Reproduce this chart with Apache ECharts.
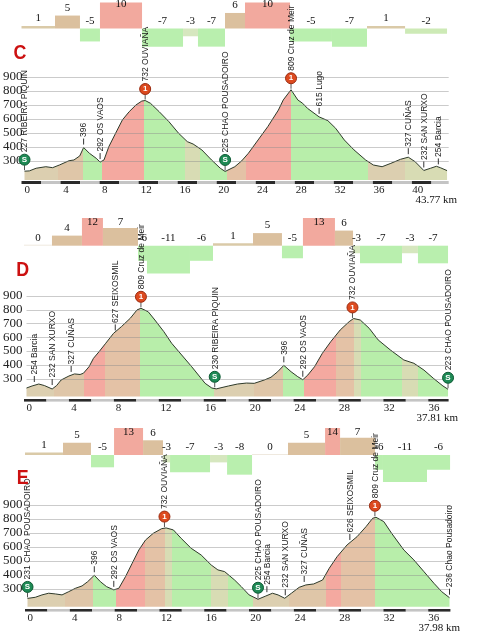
<!DOCTYPE html>
<html><head><meta charset="utf-8">
<script src="https://cdn.jsdelivr.net/npm/echarts@6/dist/echarts.min.js"></script>
<style>html,body{margin:0;padding:0;background:#fff}#c{width:485px;height:640px}</style>
</head><body><div id="c"></div>
<script>
// ---------- DATA ----------
const yTicks = [300, 400, 500, 600, 700, 800, 900];

// Stage C
const cTotal = 43.77;
const cDist = [0,0.5,1.2,2.2,2.9,3.6,4.6,5.1,5.7,6.1,6.7,7.4,7.8,8.2,8.7,9.4,10.1,10.8,11.5,12.1,12.45,13.0,13.9,14.9,15.9,16.8,17.4,18.3,19.3,20.2,20.7,21.7,22.4,23.1,24.1,25.1,26.2,26.7,27.5,28.2,28.7,29.2,30.4,31.3,32.1,33.0,34.0,35.2,36.0,36.9,37.8,38.8,39.6,40.3,41.2,41.9,42.5,42.9,43.6];
const cElev = [227,229,248,259,252,271,302,307,336,396,355,319,292,307,402,498,593,652,700,728,732,712,652,581,498,438,421,379,307,248,225,259,300,355,450,545,664,736,809,736,712,676,615,588,534,450,379,307,271,259,283,312,327,295,232,248,262,252,231];
const cGradeStart = [0,3.43,5.99,8.04,12.35,16.55,18.08,20.85,22.9,27.51,31.81,35.4,39.3];
const cGradeEnd = 43.6;
const cGrade = [1,5,-5,10,-7,-3,-7,6,10,-5,-7,1,-2];
const cPlaceKm = [0,6.1,7.8,12.45,20.7,27.5,30.4,39.6,41.2,42.7];
const cPlaceElev = [227,396,292,732,225,809,615,327,232,254];
const cPlaceName = ['RIBEIRA PIQUIN','','OS VAOS','OUVIAÑA','CHAO POUSADOIRO','Cruz de Meir','Lugo','CUÑAS','SAN XURXO','Barcia'];
const cPlaceMark = ['S','','','1','S','1','','','',''];

// Stage D
const dTotal = 37.81;
const dDist = [0,0.5,1.1,1.6,2.3,2.7,3.1,3.8,4.3,4.8,5.1,5.6,6.0,6.5,7.1,7.8,8.5,9.3,9.9,10.25,10.9,11.5,12.3,13.0,13.9,14.8,15.4,16.0,16.6,17.0,18.1,18.9,19.7,20.4,21.3,21.9,22.5,23.05,23.7,24.3,24.75,25.2,25.8,26.5,27.25,28.1,28.9,29.3,29.9,30.7,31.5,32.6,33.8,34.7,35.6,36.45,37.3,37.76];
const dElev = [232,247,261,250,225,250,290,319,334,330,339,386,447,495,556,628,676,737,797,809,784,724,640,556,471,386,326,266,232,226,247,261,268,266,290,310,350,396,350,314,292,326,386,483,567,652,712,735,724,664,580,507,435,411,362,302,247,223];
const dGradeStart = [0,2.49,5.16,7.03,10.15,10.95,14.78,16.83,20.39,22.97,24.84,27.69,29.3,29.92,33.66,35.08];
const dGradeEnd = 37.76;
const dGrade = [0,4,12,7,-6,-11,-6,1,5,-5,13,6,-3,-7,-3,-7];
const dPlaceKm = [0.7,2.3,4.0,7.95,10.25,16.86,23.05,24.75,29.2,37.76];
const dPlaceElev = [254,232,327,627,809,230,396,292,732,223];
const dPlaceName = ['Barcia','SAN XURXO','CUÑAS','SEIXOSMIL','Cruz de Meir','RIBEIRA PIQUIN','','OS VAOS','OUVIAÑA','CHAO POUSADOIRO'];
const dPlaceMark = ['','','','','1','S','','','1','S'];

// Stage E
const eTotal = 37.98;
const eDist = [0,0.7,1.3,1.9,2.5,3.1,3.7,4.3,4.9,5.4,6.0,6.55,7.1,7.75,8.2,8.8,9.4,10.0,10.6,11.3,12.05,12.45,13.1,13.8,14.7,15.6,16.5,17.1,17.7,18.6,19.2,19.9,20.7,21.4,22.0,22.5,23.1,23.7,24.4,25.0,25.7,26.5,27.1,27.8,28.7,29.6,30.4,31.0,31.3,32.0,32.7,33.8,34.7,35.6,36.5,37.2,37.9];
const eElev = [231,239,256,268,263,256,279,303,320,350,396,350,315,292,303,386,481,576,647,695,728,733,719,659,588,540,469,434,422,362,315,256,225,248,268,256,232,268,310,327,334,362,446,528,612,671,742,802,809,778,695,576,505,422,339,279,236];
const eGradeStart = [0,3.39,5.89,7.95,10.54,12.32,12.95,16.52,18.04,20.27,23.48,26.79,28.13,31.25,31.96,35.89];
const eGradeEnd = 37.95;
const eGrade = [1,5,-5,13,6,-3,-7,-3,-8,0,5,14,7,-6,-11,-6];
const ePlaceKm = [0,6.0,7.75,12.3,20.7,21.5,23.15,24.85,28.95,31.2,37.9];
const ePlaceElev = [231,396,292,732,225,254,232,327,626,809,236];
const ePlaceName = ['CHAO POUSADOIRO','','OS VAOS','OUVIAÑA','CHAO POUSADOIRO','Barcia','SAN XURXO','CUÑAS','SEIXOSMIL','Cruz de Meir','Chao Pousadoiro'];
const ePlaceMark = ['S','','','1','S','','','','','1',''];

// ---------- LAYOUT / STYLE ----------
const SERIF = '"Liberation Serif", "Times New Roman", serif';
const SANS = '"Liberation Sans", Arial, sans-serif';
function barColor(v){
  if (v >= 10) return '#f2a99e';
  if (v >= 4) return '#dbc09e';
  if (v >= 1) return '#dacaa8';
  if (v === 0) return '#efe9df';
  if (v >= -2) return '#cdeab6';
  if (v === -3) return '#d6e7bf';
  return '#b9efae';
}
function fillColor(v){
  if (v >= 10) return '#f4a9a0';
  if (v >= 6) return '#e4c2a6';
  if (v >= 4) return '#dfc6a8';
  if (v >= 0) return '#dccfb0';
  if (v >= -3) return '#d8dcb4';
  return '#b8eeaa';
}

const panels = [
  {letter:'C', total:cTotal, dist:cDist, elev:cElev, gs:cGradeStart, ge:cGradeEnd, g:cGrade, pk:cPlaceKm, pe:cPlaceElev, pn:cPlaceName, pm:cPlaceMark,
   left:21.5, right:485-448.7, top:77, h:103, yMin:164, yLabMargin:2, xLabMargin:5, axTop:181, axH:3, gTop:0, gH:59.6, lx:20, ly:53, tx:457, ty:200},
  {letter:'D', total:dTotal, dist:dDist, elev:dElev, gs:dGradeStart, ge:dGradeEnd, g:dGrade, pk:dPlaceKm, pe:dPlaceElev, pn:dPlaceName, pm:dPlaceMark,
   left:24, right:485-448.6, top:295.7, h:100.9, yMin:170, yLabMargin:4, xLabMargin:6, axTop:399, axH:2.6, gTop:218, gH:57.9, lx:22.7, ly:270, tx:458, ty:418},
  {letter:'E', total:eTotal, dist:eDist, elev:eElev, gs:eGradeStart, ge:eGradeEnd, g:eGrade, pk:ePlaceKm, pe:ePlaceElev, pn:ePlaceName, pm:ePlaceMark,
   left:25, right:485-450.4, top:504.5, h:102.2, yMin:172, yLabMargin:5, xLabMargin:6, axTop:609, axH:2.6, gTop:428, gH:56.5, lx:22.7, ly:478, tx:460, ty:628}
];

const grid = [], xAxis = [], yAxis = [], series = [], visualMap = [], graphic = [];

function barRender(params, api){
  const s = api.value(0), e = api.value(1), v = api.value(2);
  const b0 = api.coord([s, 0]), b1 = api.coord([e, v]);
  const top = params.coordSys.y;
  const yv = Math.max(b1[1], top);
  let y = Math.min(b0[1], yv), h = Math.abs(yv - b0[1]);
  if (h < 1) { h = 1; y = b0[1] - 1; }
  const labelY = Math.max(Math.min(b0[1], yv) - 7.5, top + 4.5);
  return {type:'group', children:[
    {type:'rect', shape:{x:b0[0], y:y, width:b1[0]-b0[0], height:h}, style:{fill:barColor(v)}},
    {type:'text', x:(b0[0]+b1[0])/2, y:labelY, style:{text:String(v), font:'11px ' + SERIF, fill:'#111', align:'center', verticalAlign:'middle'}}
  ]};
}

function gridLineRender(params, api){
  const a = api.coord([api.value(0), api.value(1)]);
  const b = api.coord([api.value(2), api.value(1)]);
  const y = Math.round(a[1]) + 0.5;
  return {type:'line', shape:{x1:a[0], y1:y, x2:b[0], y2:y},
    style:{stroke:'rgba(140,140,140,0.45)', lineWidth:1}};
}

function placeRender(names, marks){
  return function(params, api){
    const p = api.coord([api.value(0), api.value(1)]);
    const i = params.dataIndex;
    const kids = [];
    let base;
    if (marks[i]) {
      const red = marks[i] === '1';
      kids.push({type:'line', shape:{x1:p[0], y1:p[1]-1, x2:p[0], y2:p[1]-6}, style:{stroke:'#555', lineWidth:1}});
      kids.push({type:'circle', shape:{cx:p[0], cy:p[1]-11.5, r:5.5}, style:{fill: red ? '#dd4a1f' : '#1e8a55', stroke: red ? '#9b2b10' : '#0c5a33', lineWidth:1}});
      kids.push({type:'text', x:p[0], y:p[1]-11.5, style:{text:marks[i], font:'bold 8px ' + SANS, fill:'#fff', align:'center', verticalAlign:'middle'}});
      base = p[1] - 19;
    } else {
      kids.push({type:'line', shape:{x1:p[0], y1:p[1]-3, x2:p[0], y2:p[1]-9}, style:{stroke:'#333', lineWidth:1}});
      base = p[1] - 10.5;
    }
    const label = api.value(1) + (names[i] ? ' ' + names[i] : '');
    kids.push({type:'text', x:p[0]+0.5, y:base, rotation:Math.PI/2, style:{text:label, font:'8.5px ' + SANS, fill:'#1a1a1a', align:'left', verticalAlign:'middle'}});
    return {type:'group', children:kids};
  };
}

panels.forEach((P, k) => {
  const gi = grid.length;
  // profile grid
  grid.push({left:P.left, right:P.right, top:P.top, height:P.h});
  xAxis.push({gridIndex:gi, type:'value', min:0, max:P.total, interval:4,
    axisLine:{show:false}, axisTick:{show:false}, splitLine:{show:false},
    axisLabel:{align:'left', margin:P.xLabMargin, fontSize:11, fontFamily:SERIF, color:'#222', showMaxLabel:false}});
  yAxis.push({gridIndex:gi, type:'value', min:P.yMin, max:900,
    axisLine:{show:false}, axisTick:{show:false, customValues:yTicks},
    axisLabel:{customValues:yTicks, margin:P.yLabMargin, fontSize:13, fontFamily:SERIF, color:'#222', padding:[0,0,9,0]},
    splitLine:{show:false}});
  // axis stripe grid
  grid.push({left:P.left, right:P.right, top:P.axTop, height:P.axH});
  xAxis.push({gridIndex:gi+1, type:'value', min:0, max:P.total, interval:2,
    axisLine:{show:false}, axisTick:{show:false}, axisLabel:{show:false}, splitLine:{show:false},
    splitArea:{show:true, areaStyle:{color:['#2a2a2a','#c4c4c4']}}});
  yAxis.push({gridIndex:gi+1, type:'value', min:0, max:1, show:false});
  // gradient bar grid
  grid.push({left:P.left, right:P.right, top:P.gTop, height:P.gH});
  xAxis.push({gridIndex:gi+2, type:'value', min:0, max:P.total, show:false});
  yAxis.push({gridIndex:gi+2, type:'value', min:-12, max:11, show:false});

  // profile area
  const si = series.length;
  series.push({type:'line', xAxisIndex:gi, yAxisIndex:gi, symbol:'none', silent:true, z:2,
    data:P.dist.map((d,i)=>[d, P.elev[i]]),
    lineStyle:{color:'#2e3a2a', width:1}, areaStyle:{opacity:1}});
  const pieces = P.gs.map((s,i)=>{
    const e = i < P.gs.length-1 ? P.gs[i+1] : 1000;
    return {gte: i === 0 ? -1000 : s, lt: e, color: fillColor(P.g[i])};
  });
  visualMap.push({type:'piecewise', show:false, seriesIndex:si, dimension:0, pieces:pieces, outOfRange:{color:'#dccfb0'}});

  // horizontal grid lines at the elevation ticks
  series.push({type:'custom', xAxisIndex:gi, yAxisIndex:gi, silent:true, z:4,
    renderItem:gridLineRender, encode:{x:[0,2], y:1}, data:yTicks.map(v=>[0, v, P.total])});

  // gradient bars
  series.push({type:'custom', xAxisIndex:gi+2, yAxisIndex:gi+2, silent:true, z:3,
    renderItem:barRender,
    encode:{x:[0,1], y:2},
    data:P.gs.map((s,i)=>[s, i < P.gs.length-1 ? P.gs[i+1] : P.ge, P.g[i]])});

  // places
  series.push({type:'custom', xAxisIndex:gi, yAxisIndex:gi, silent:true, z:10,
    renderItem:placeRender(P.pn, P.pm),
    encode:{x:0, y:1},
    data:P.pk.map((d,i)=>[d, P.pe[i]])});

  graphic.push({type:'text', x:P.lx, y:P.ly, scaleX:0.85, z:20,
    style:{text:P.letter, font:'bold 21px ' + SANS, fill:'#cc1111', align:'center', verticalAlign:'middle'}});
  graphic.push({type:'text', x:P.tx, y:P.ty, z:20,
    style:{text:P.total.toFixed(2) + ' km', font:'11px ' + SERIF, fill:'#111', align:'right', verticalAlign:'middle'}});
});

const chart = echarts.init(document.getElementById('c'), null, {renderer:'canvas'});
chart.setOption({
  animation:false,
  backgroundColor:'#ffffff',
  grid:grid, xAxis:xAxis, yAxis:yAxis, series:series, visualMap:visualMap, graphic:graphic
});
</script></body></html>
